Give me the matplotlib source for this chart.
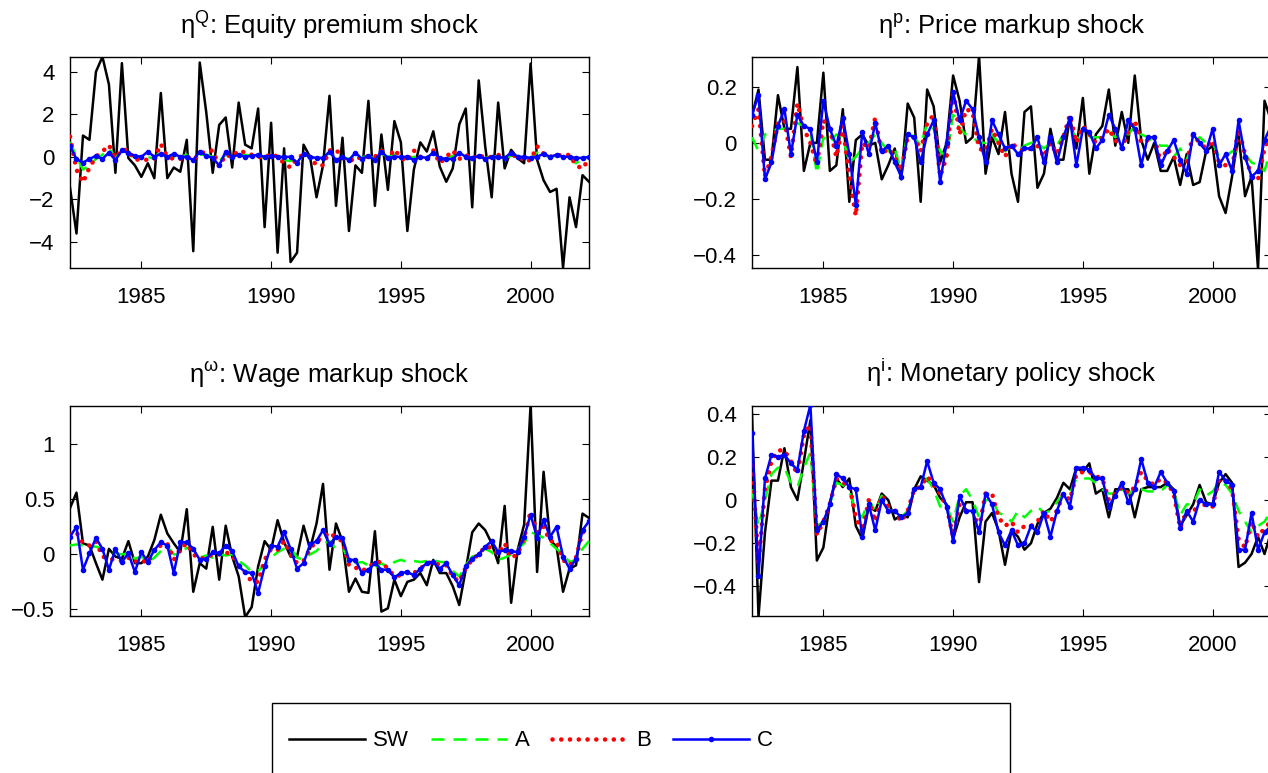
import numpy as np
import matplotlib
matplotlib.use("Agg")
import matplotlib.pyplot as plt
from matplotlib.lines import Line2D
from matplotlib.patches import Rectangle

plt.rcParams['font.family'] = ['Liberation Sans', 'DejaVu Sans']
plt.rcParams['mathtext.fontset'] = 'custom'
plt.rcParams['mathtext.rm'] = 'Liberation Sans'

# quarterly dates, 1982Q2 .. 2002Q2
dates = np.arange(1982.25, 2002.26, 0.25)

# ---- equity premium shock ----
eq_sw = [-1.45, -3.6, 1.0, 0.8, 4.0, 4.7, 3.4, -0.75, 4.4, -0.06,
         -0.4, -0.94, -0.3, -1.0, 3.0, -1.0, -0.5, -0.7, 0.8, -4.43,
         4.43, 2.1, -0.75, 1.5, 1.85, -0.5, 2.55, 0.57, 0.4, 2.27,
         -3.3, 1.6, -4.5, 0.4, -4.94, -4.5, 0.57, 0.0, -1.9, -0.4,
         2.87, -2.3, 0.9, -3.48, -0.4, -0.75, 2.63, -2.3, 1.05, -1.55,
         1.68, 0.68, -3.48, -0.6, 0.68, 0.25, 1.2, -0.46, -1.17, -0.54,
         1.52, 2.27, -2.37, 3.59, 0.5, -1.9, 2.55, -0.54, 0.33, -0.06,
         -0.3, 4.38, -0.14, -1.1, -1.65, -1.5, -5.2, -1.9, -3.3, -0.86,
         -1.17]
eq_a = [0.7, 0.0, -0.6, -0.4, -0.1, 0.1, 0.4, 0.0, 0.2, 0.1,
        0.0, 0.0, 0.0, -0.1, 0.35, 0.0, 0.0, 0.0, 0.1, -0.2,
        0.1, 0.1, 0.0, -0.2, 0.1, 0.0, 0.1, 0.1, 0.05, -0.05,
        0.0, 0.05, 0.0, -0.15, -0.2, -0.05, 0.1, 0.0, -0.1, -0.1,
        0.2, 0.0, 0.0, -0.1, 0.05, 0.0, 0.0, -0.05, 0.15, 0.0,
        0.1, 0.0, -0.1, 0.0, 0.0, -0.05, 0.2, -0.1, -0.1, 0.05,
        0.0, 0.05, -0.05, 0.05, -0.05, 0.0, 0.05, -0.05, 0.05, 0.05,
        -0.05, -0.05, 0.2, 0.05, 0.0, 0.05, 0.0, -0.05, -0.3, -0.1,
        0.0]
eq_b = [0.95, -0.6, -1.2, -0.5, 0.0, 0.25, 0.55, -0.05, 0.35, 0.3,
        -0.15, -0.1, -0.15, -0.1, 0.6, 0.0, -0.1, -0.1, 0.0, -0.15,
        0.15, 0.25, 0.3, -0.45, 0.1, 0.0, 0.3, 0.2, 0.1, 0.0,
        -0.05, 0.15, 0.0, -0.3, -0.5, -0.05, 0.1, 0.0, -0.4, -0.4,
        0.3, 0.35, -0.05, -0.1, -0.2, 0.05, 0.0, 0.0, 0.3, -0.1,
        0.35, -0.05, -0.2, 0.3, 0.0, -0.1, 0.3, -0.3, 0.0, 0.3,
        -0.1, 0.1, -0.1, 0.1, -0.05, 0.0, 0.1, -0.1, 0.0, 0.1,
        -0.2, -0.15, 0.5, 0.15, 0.0, 0.1, 0.05, 0.1, -0.4, -0.55,
        -0.1]
eq_c = [0.5, -0.1, -0.27, -0.1, 0.05, -0.1, 0.2, -0.15, 0.3, 0.17,
        0.05, 0.0, 0.25, 0.0, 0.15, 0.0, 0.15, 0.0, 0.0, -0.15,
        0.25, 0.05, -0.05, -0.4, 0.25, 0.0, 0.1, 0.0, 0.05, 0.1,
        0.0, 0.05, 0.0, 0.0, 0.0, -0.27, 0.15, 0.0, -0.05, -0.05,
        0.25, -0.15, 0.0, -0.15, 0.2, -0.1, 0.05, -0.15, 0.25, -0.05,
        0.0, 0.0, 0.0, -0.15, 0.0, -0.05, 0.2, -0.05, -0.1, -0.1,
        0.2, 0.0, -0.05, 0.05, -0.1, 0.0, 0.0, -0.05, 0.2, 0.0,
        0.0, -0.05, 0.0, 0.15, 0.0, 0.1, 0.0, 0.0, -0.05, -0.05,
        0.0]

# ---- price markup shock ----
pm_sw = [0.095, 0.19, -0.06, -0.06, 0.17, 0.05, 0.05, 0.27, -0.1, 0.0,
         0.0, 0.25, -0.1, -0.08, 0.12, -0.21, 0.01, 0.03, -0.01, 0.0,
         -0.13, -0.08, -0.02, -0.13, 0.14, 0.09, -0.21, 0.19, 0.13, -0.07,
         0.0, 0.24, 0.15, 0.0, 0.02, 0.31, -0.11, 0.02, -0.04, 0.11,
         -0.11, -0.21, 0.11, 0.13, -0.16, -0.11, 0.05, -0.06, -0.06, 0.09,
         -0.02, 0.16, -0.11, 0.03, 0.06, 0.19, -0.01, 0.11, 0.0, 0.24,
         0.01, -0.06, 0.0, -0.1, -0.1, -0.05, -0.15, -0.04, -0.15, -0.14,
         -0.03, -0.01, -0.19, -0.25, -0.12, 0.03, -0.19, -0.12, -0.45, 0.15,
         0.08]
pm_a = [0.02, -0.03, 0.03, 0.04, 0.05, 0.05, 0.05, 0.07, 0.06, 0.04,
        -0.11, 0.02, 0.0, 0.03, 0.02, -0.07, -0.05, -0.02, 0.0, 0.03,
        0.0, -0.03, -0.02, -0.1, 0.04, 0.02, -0.01, 0.07, 0.05, -0.03,
        -0.05, 0.1, 0.05, 0.03, 0.02, 0.0, 0.0, 0.03, 0.0, -0.03,
        -0.01, -0.03, -0.01, 0.0, 0.0, -0.02, 0.0, -0.01, 0.03, 0.05,
        0.02, 0.01, 0.02, 0.02, 0.02, 0.04, 0.02, 0.04, 0.03, 0.06,
        0.03, 0.02, 0.0, -0.01, -0.01, -0.05, -0.02, -0.06, 0.0, 0.02,
        0.0, 0.0, -0.05, -0.05, -0.03, -0.03, -0.04, -0.07, -0.08, -0.1,
        -0.02]
pm_b = [0.06, 0.12, -0.12, -0.05, 0.07, 0.08, -0.05, 0.14, 0.05, 0.0,
        -0.08, 0.08, 0.05, -0.05, 0.06, -0.12, -0.26, 0.0, -0.02, 0.09,
        -0.04, -0.02, -0.05, -0.1, 0.02, 0.02, -0.03, 0.07, 0.1, -0.12,
        -0.05, 0.19, 0.03, 0.12, 0.11, -0.02, -0.03, 0.05, 0.0, -0.05,
        0.0, -0.02, -0.03, -0.02, -0.01, -0.05, 0.0, -0.04, 0.02, 0.1,
        0.0, 0.06, 0.03, 0.0, 0.02, 0.05, 0.01, -0.02, 0.04, 0.08,
        0.0, 0.01, 0.02, -0.07, -0.02, -0.05, -0.08, -0.07, 0.03, 0.0,
        -0.02, 0.01, -0.07, -0.08, -0.09, 0.05, -0.04, -0.12, -0.13, -0.02,
        0.03]
pm_c = [0.1, 0.17, -0.13, -0.07, 0.06, 0.12, -0.04, 0.1, 0.06, 0.05,
        -0.07, 0.15, 0.05, -0.01, 0.09, -0.04, -0.22, 0.04, -0.04, 0.07,
        -0.03, -0.01, -0.07, -0.12, 0.03, 0.02, -0.07, 0.03, 0.08, -0.14,
        0.0, 0.18, 0.08, 0.15, 0.12, 0.02, -0.07, 0.08, 0.03, -0.02,
        -0.01, -0.04, -0.02, -0.02, 0.02, -0.07, 0.02, -0.07, 0.02, 0.09,
        -0.08, 0.05, 0.04, -0.02, 0.01, 0.1, 0.05, -0.02, 0.08, 0.05,
        -0.08, 0.02, 0.02, -0.08, -0.03, 0.01, -0.06, -0.11, 0.03, 0.0,
        -0.03, 0.05, -0.08, -0.04, -0.1, 0.08, -0.05, -0.12, -0.1, 0.01,
        0.06]

# ---- wage markup shock ----
wm_sw = [0.42, 0.56, 0.1, 0.08, -0.08, -0.23, 0.05, -0.02, -0.04, 0.12,
         -0.08, -0.08, -0.02, 0.13, 0.36, 0.19, 0.1, 0.02, 0.41, -0.34,
         -0.08, -0.13, 0.25, -0.23, 0.26, -0.02, -0.2, -0.57, -0.48, -0.11,
         0.12, 0.04, 0.31, 0.11, -0.02, -0.02, 0.26, 0.05, 0.28, 0.64,
         -0.14, 0.28, 0.12, -0.34, -0.22, -0.34, -0.35, 0.21, -0.52, -0.49,
         -0.23, -0.38, -0.25, -0.23, -0.17, -0.28, -0.05, -0.17, -0.17, -0.29,
         -0.46, -0.14, 0.2, 0.28, 0.22, 0.1, -0.08, 0.44, -0.44, 0.04,
         0.27, 1.36, -0.16, 0.75, 0.13, 0.07, -0.34, -0.13, -0.1, 0.37,
         0.33]
wm_a = [0.08, 0.09, 0.08, 0.07, 0.07, 0.05, 0.03, 0.01, 0.0, 0.01,
        -0.04, -0.02, -0.07, -0.03, 0.03, 0.07, 0.0, 0.0, 0.06, 0.06,
        -0.03, -0.01, -0.03, 0.0, -0.01, 0.0, -0.06, -0.1, -0.16, -0.15,
        -0.1, -0.03, 0.02, 0.05, 0.06, -0.03, -0.05, 0.0, 0.03, 0.1,
        0.12, 0.05, 0.07, -0.07, -0.08, -0.07, -0.1, -0.12, -0.08, -0.12,
        -0.07, -0.05, -0.07, -0.06, -0.07, -0.06, -0.05, -0.07, -0.07, -0.15,
        -0.2, -0.1, -0.02, 0.0, 0.05, 0.02, -0.05, -0.03, 0.0, 0.05,
        0.1, 0.2, 0.18, 0.15, 0.1, 0.05, 0.0, -0.07, -0.05, 0.05,
        0.12]
wm_b = [0.18, 0.2, 0.1, 0.08, 0.12, -0.02, -0.04, -0.05, -0.06, -0.03,
        -0.07, -0.05, -0.08, 0.05, 0.08, 0.1, -0.05, 0.05, 0.1, 0.0,
        -0.04, -0.03, 0.0, 0.0, 0.02, -0.01, -0.1, -0.16, -0.25, -0.25,
        -0.05, 0.05, 0.04, 0.12, 0.0, -0.08, -0.06, 0.05, 0.12, 0.15,
        0.2, 0.15, 0.12, -0.1, -0.12, -0.15, -0.12, -0.07, -0.07, -0.13,
        -0.2, -0.19, -0.16, -0.17, -0.13, -0.08, -0.07, -0.1, -0.1, -0.2,
        -0.25, -0.12, -0.05, 0.0, 0.07, 0.06, 0.0, 0.1, -0.03, 0.0,
        0.15, 0.39, 0.2, 0.25, 0.12, 0.12, -0.05, -0.1, -0.03, 0.2,
        0.22]
wm_c = [0.16, 0.25, -0.14, 0.01, 0.15, 0.05, -0.14, 0.05, -0.07, 0.01,
        -0.16, 0.02, -0.07, 0.04, 0.11, 0.08, -0.17, 0.11, 0.11, 0.05,
        -0.05, -0.04, 0.02, 0.01, 0.08, 0.03, -0.11, -0.16, -0.17, -0.35,
        -0.11, 0.08, 0.07, 0.2, 0.05, -0.13, -0.08, 0.09, 0.12, 0.22,
        0.09, 0.16, 0.15, -0.05, -0.05, -0.17, -0.14, -0.08, -0.14, -0.14,
        -0.21, -0.17, -0.16, -0.19, -0.13, -0.08, -0.07, -0.13, -0.08, -0.19,
        -0.28, -0.11, -0.04, 0.0, 0.07, 0.12, 0.02, 0.04, 0.03, 0.02,
        0.16, 0.36, 0.15, 0.31, 0.16, 0.25, -0.02, -0.13, -0.04, 0.22,
        0.3]

# ---- monetary policy shock ----
mp_sw = [0.4, -0.54, -0.15, 0.09, 0.09, 0.24, 0.06, 0.0, 0.18, 0.37,
         -0.28, -0.22, -0.01, 0.1, 0.06, 0.1, -0.12, -0.18, -0.03, -0.05,
         0.03, 0.0, -0.09, -0.07, -0.08, 0.05, 0.11, 0.09, 0.07, 0.01,
         -0.02, -0.18, -0.08, -0.01, -0.01, -0.38, -0.1, -0.06, -0.14, -0.3,
         -0.14, -0.17, -0.23, -0.2, -0.11, -0.06, -0.04, 0.01, 0.08, 0.05,
         0.15, 0.13, 0.17, 0.03, 0.05, -0.08, 0.05, 0.05, 0.05, -0.08,
         0.05, 0.06, 0.06, 0.06, 0.08, 0.05, -0.12, -0.07, -0.02, 0.07,
         -0.01, -0.02, 0.08, 0.12, 0.08, -0.31, -0.29, -0.25, -0.17, -0.25,
         -0.15]
mp_a = [0.05, -0.12, 0.0, 0.12, 0.15, 0.15, 0.08, 0.06, 0.15, 0.22,
        -0.12, -0.1, -0.02, 0.08, 0.07, 0.04, -0.05, -0.08, 0.0, -0.05,
        0.02, -0.05, -0.05, -0.08, -0.05, 0.05, 0.06, 0.1, 0.05, -0.03,
        -0.03, -0.1, 0.02, 0.05, 0.0, -0.08, 0.0, 0.0, -0.06, -0.07,
        -0.1, -0.05, -0.08, -0.05, -0.03, -0.06, -0.05, -0.01, 0.03, 0.03,
        0.1, 0.1, 0.1, 0.08, 0.05, 0.03, 0.03, 0.05, 0.03, 0.05,
        0.05, 0.04, 0.04, 0.04, 0.07, 0.05, -0.07, -0.02, -0.02, 0.05,
        0.02, 0.04, 0.08, 0.07, 0.03, -0.05, -0.1, -0.15, -0.12, -0.1,
        -0.05]
mp_b = [0.2, -0.3, 0.05, 0.18, 0.23, 0.23, 0.18, 0.12, 0.3, 0.35,
        -0.16, -0.1, -0.02, 0.1, 0.08, 0.07, -0.08, -0.15, 0.0, -0.1,
        0.02, -0.03, -0.05, -0.1, -0.05, 0.05, 0.06, 0.11, 0.07, 0.03,
        -0.03, -0.17, -0.02, -0.05, -0.05, -0.13, 0.03, 0.03, -0.08, -0.12,
        -0.1, -0.15, -0.12, -0.12, -0.1, -0.05, -0.1, -0.05, 0.03, 0.0,
        0.12, 0.13, 0.13, 0.11, 0.1, 0.0, 0.03, 0.06, 0.03, 0.06,
        0.13, 0.09, 0.07, 0.1, 0.08, 0.03, -0.13, -0.05, -0.06, 0.0,
        -0.03, -0.03, 0.1, 0.09, 0.05, -0.18, -0.22, -0.1, -0.17, -0.13,
        -0.1]
mp_c = [0.31, -0.35, 0.1, 0.21, 0.2, 0.21, 0.17, 0.14, 0.32, 0.44,
        -0.14, -0.1, -0.02, 0.12, 0.1, 0.06, 0.05, -0.17, -0.02, -0.14,
        0.0, -0.05, -0.05, -0.08, -0.06, 0.05, 0.06, 0.18, 0.08, 0.05,
        -0.03, -0.19, 0.02, -0.05, -0.05, -0.15, 0.03, -0.02, -0.15, -0.21,
        -0.14, -0.21, -0.2, -0.12, -0.15, -0.06, -0.17, -0.05, 0.03, -0.03,
        0.15, 0.15, 0.14, 0.1, 0.1, -0.03, 0.02, 0.08, -0.01, 0.05,
        0.19, 0.08, 0.06, 0.13, 0.08, 0.04, -0.13, -0.05, -0.1, 0.0,
        -0.02, -0.02, 0.13, 0.09, 0.07, -0.23, -0.23, -0.06, -0.23, -0.15,
        -0.12]

titles = [r'η$^{\mathrm{Q}}$: Equity premium shock',
          r'η$^{\mathrm{p}}$: Price markup shock',
          r'η$^{\mathrm{\omega}}$: Wage markup shock',
          r'η$^{\mathrm{i}}$: Monetary policy shock']
panels = [(eq_sw, eq_a, eq_b, eq_c), (pm_sw, pm_a, pm_b, pm_c),
          (wm_sw, wm_a, wm_b, wm_c), (mp_sw, mp_a, mp_b, mp_c)]
ylims = [(-5.22, 4.69), (-0.446, 0.306), (-0.56, 1.35), (-0.537, 0.437)]
yticks = [[-4, -2, 0, 2, 4], [-0.4, -0.2, 0, 0.2],
          [-0.5, 0, 0.5, 1], [-0.4, -0.2, 0, 0.2, 0.4]]
xticks = [1985, 1990, 1995, 2000]
series_names = ['SW', 'A', 'B', 'C']


def tick_text(v):
    s = f'{v:g}'
    return s.replace('-', '\u2212')


W, H = 1268, 773
fig = plt.figure(figsize=(W / 100, H / 100), dpi=100)

# axes boxes in pixels: (left, top, right, bottom)
boxes = [(70, 57, 589, 268), (752, 57, 1271, 268),
         (70, 405.7, 589, 616), (752, 405.7, 1271, 616)]

TICK_FS = 16
TITLE_FS = 18.5
LEG_FS = 16

sw_kw = dict(color='k', lw=1.8)
a_kw = dict(color=(0, 1, 0), lw=1.8, dashes=(5.2, 3.6))
b_kw = dict(color='r', lw=3.3, dashes=(0.01, 1.9), dash_capstyle='round')
c_kw = dict(color='b', lw=1.8, marker='.', markersize=6)

for i, (l, t, r, b) in enumerate(boxes):
    ax = fig.add_axes([l / W, 1 - b / H, (r - l) / W, (b - t) / H])
    sw, a, bb, c = panels[i]
    ax.plot(dates, sw, zorder=2, **sw_kw)
    ax.plot(dates, a, zorder=3, **a_kw)
    ax.plot(dates, bb, zorder=4, **b_kw)
    ax.plot(dates, c, zorder=5, **c_kw)
    ax.set_xlim(dates[0], dates[-1])
    ax.set_ylim(*ylims[i])
    ax.set_xticks(xticks)
    ax.set_xticklabels([str(x) for x in xticks])
    ax.set_yticks(yticks[i])
    ax.set_yticklabels([tick_text(v) for v in yticks[i]])
    ax.tick_params(direction='in', top=True, right=True, length=5,
                   width=0.8, labelsize=TICK_FS)
    ax.tick_params(axis='x', pad=14)
    ax.tick_params(axis='y', pad=11)
    for s in ax.spines.values():
        s.set_linewidth(1.0)
    ax.set_title(titles[i], fontsize=TITLE_FS, pad=17)

# legend box spans a fixed strip at the bottom of the figure
fig.add_artist(Rectangle((272 / W, 1 - 790 / H), (1010 - 272) / W, 87 / H,
                         transform=fig.transFigure, facecolor='white',
                         edgecolor='k', lw=1.0, zorder=1))
handles = [Line2D([], [], **sw_kw), Line2D([], [], **a_kw),
           Line2D([], [], **b_kw), Line2D([], [], **c_kw)]
em_px = LEG_FS * 100 / 72
leg = fig.legend(handles, series_names, loc='center left',
                 bbox_to_anchor=(289 / W, 1 - 741 / H), ncol=4,
                 fontsize=LEG_FS, frameon=False, borderpad=0,
                 handlelength=76 / em_px,
                 handletextpad=8 / em_px, columnspacing=22 / em_px,
                 numpoints=1, borderaxespad=0)
leg.set_zorder(3)

fig.savefig('out.png', dpi=100)
